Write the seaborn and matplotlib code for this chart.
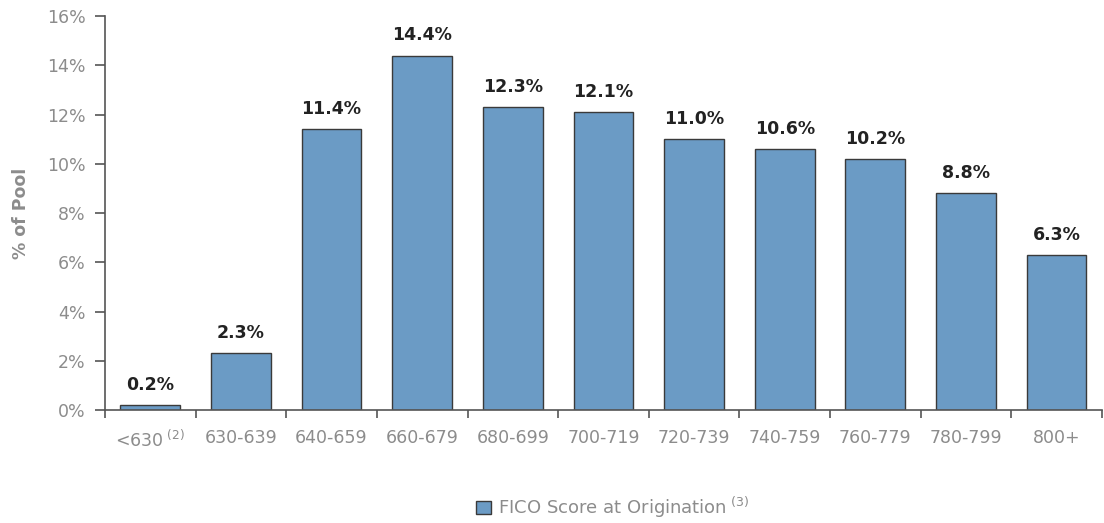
import matplotlib
matplotlib.use("Agg")
import matplotlib.pyplot as plt
import seaborn as sns
import pandas as pd
from matplotlib.patches import Patch
from matplotlib.ticker import FixedLocator, PercentFormatter

categories = ["<630", "630-639", "640-659", "660-679", "680-699", "700-719",
              "720-739", "740-759", "760-779", "780-799", "800+"]
tick_labels = ["<630$^{\\ (2)}$", "630-639", "640-659", "660-679", "680-699", "700-719",
               "720-739", "740-759", "760-779", "780-799", "800+"]
values = [0.2, 2.3, 11.4, 14.4, 12.3, 12.1, 11.0, 10.6, 10.2, 8.8, 6.3]
series_name = "FICO Score at Origination"

sns.set_theme(style="white")
plt.rcParams["font.family"] = ["DejaVu Sans"]

df = pd.DataFrame({"cat": categories, "val": values})
fig = plt.figure(figsize=(11.04, 5.23), dpi=100)
ax = fig.add_axes([0.0951, 0.216, 0.903, 0.753])

bar_color = "#6b9bc5"
gray = "#8c8c8c"
sns.barplot(data=df, x="cat", y="val", color=bar_color, width=0.66,
            edgecolor="#3a3a3a", linewidth=1.0, saturation=1, ax=ax)

ax.set_ylim(0, 16)
ax.set_xlim(-0.5, len(categories) - 0.5)
ax.set_yticks(range(0, 17, 2))
ax.yaxis.set_major_formatter(PercentFormatter(decimals=0))
ax.set_xticks(range(len(categories)))
ax.set_xticklabels(tick_labels)
ax.xaxis.set_minor_locator(FixedLocator([i + 0.5 for i in range(-1, len(categories))]))
ax.tick_params(axis="x", which="major", length=0, pad=14, labelsize=12.5, labelcolor=gray)
ax.tick_params(axis="x", which="minor", length=6, width=1.2, color="#555555", direction="out", bottom=True)
ax.tick_params(axis="y", which="major", length=7, width=1.2, color="#555555", direction="out",
               left=True, labelsize=12.5, labelcolor=gray, pad=7)

for s in ["top", "right"]:
    ax.spines[s].set_visible(False)
for s in ["left", "bottom"]:
    ax.spines[s].set_color("#555555")
    ax.spines[s].set_linewidth(1.2)

ax.set_xlabel("")
ax.set_ylabel("% of Pool", color=gray, fontsize=12.5, fontweight="bold", labelpad=12)

for i, v in enumerate(values):
    ax.annotate(f"{v:.1f}%", (i, v), xytext=(0, 8), textcoords="offset points",
                ha="center", va="bottom", fontsize=12.5, fontweight="bold", color="#222222")

handle = Patch(facecolor=bar_color, edgecolor="#3a3a3a", linewidth=1.0)
fig.legend([handle], [series_name + "$^{\\ (3)}$"], loc="center", bbox_to_anchor=(0.555, 0.03),
           frameon=False, fontsize=13, handlelength=0.8, handleheight=0.8, handletextpad=0.4,
           labelcolor=gray)

fig.savefig("out.png", dpi=100)
